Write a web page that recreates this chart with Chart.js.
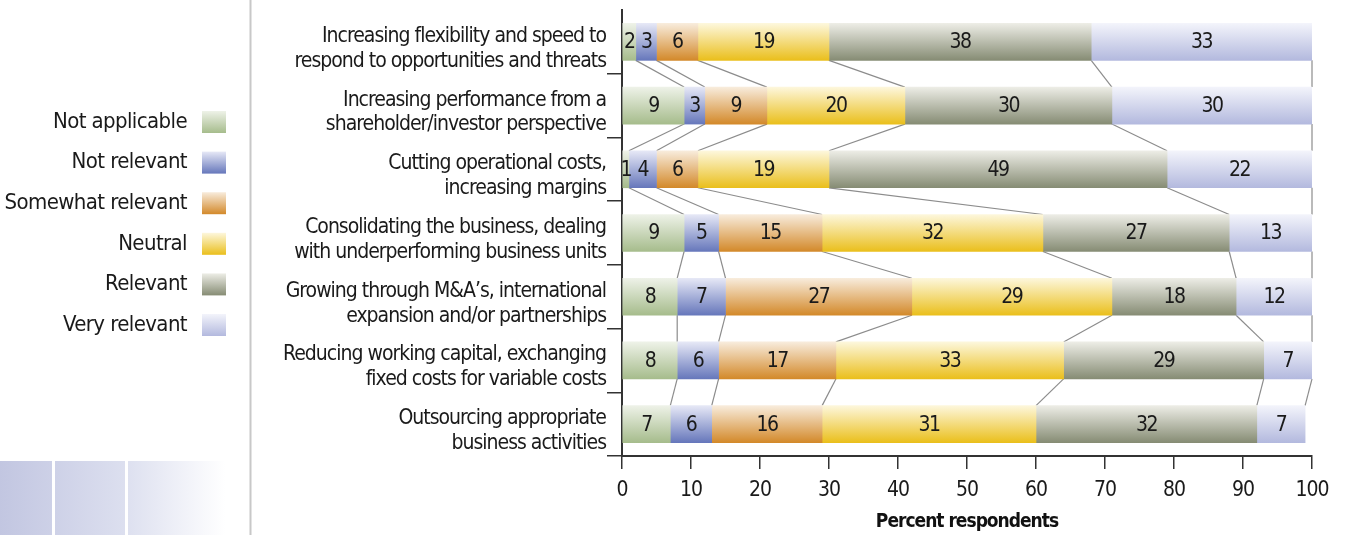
<!DOCTYPE html>
<html>
<head>
<meta charset="utf-8">
<script src="https://cdn.jsdelivr.net/npm/chart.js@4.4.1/dist/chart.umd.min.js"></script>
<style>
  html, body { margin: 0; padding: 0; background: #fff; overflow: hidden; }
  #wrap { position: relative; width: 1345px; height: 535px; }
</style>
</head>
<body>
<div id="wrap"><canvas id="c" width="1345" height="535"></canvas></div>
<script>
// Survey categories (two-line labels)
const categories = [
  ['Increasing flexibility and speed to', 'respond to opportunities and threats'],
  ['Increasing performance from a', 'shareholder/investor perspective'],
  ['Cutting operational costs,', 'increasing margins'],
  ['Consolidating the business, dealing', 'with underperforming business units'],
  ['Growing through M&A\u2019s, international', 'expansion and/or partnerships'],
  ['Reducing working capital, exchanging', 'fixed costs for variable costs'],
  ['Outsourcing appropriate', 'business activities']
];

// Share of respondents per answer (percent)
const notApplicable    = [2, 9, 1, 9, 8, 8, 7];
const notRelevant      = [3, 3, 4, 5, 7, 6, 6];
const somewhatRelevant = [6, 9, 6, 15, 27, 17, 16];
const neutral          = [19, 20, 19, 32, 29, 33, 31];
const relevant         = [38, 30, 49, 27, 18, 29, 32];
const veryRelevant     = [33, 30, 22, 13, 12, 7, 7];

const seriesNames = ['Not applicable', 'Not relevant', 'Somewhat relevant', 'Neutral', 'Relevant', 'Very relevant'];
const xTickValues = [0, 10, 20, 30, 40, 50, 60, 70, 80, 90, 100];

// Visual styling
const FONT = "'Liberation Sans Narrow', 'DejaVu Sans Condensed', 'Arial Narrow', 'Roboto', sans-serif";
const TEXT = '#1a1a1a';
const BAR = 37;
const TIGHT = '-1px';   // narrows the condensed face a little further
const shades = [
  ['#eef2e8', '#a6bc8c'],
  ['#e6e8f6', '#6677bb'],
  ['#f8ecdc', '#d3892a'],
  ['#fdf7dc', '#eabf1c'],
  ['#ededE6', '#868c74'],
  ['#f3f4fb', '#b3b9de']
];

function barFill(top, bottom) {
  return (ctx) => {
    const chart = ctx.chart;
    if (!chart.chartArea || ctx.type !== 'data') return bottom;
    const y = chart.scales.y.getPixelForValue(ctx.dataIndex);
    const g = chart.ctx.createLinearGradient(0, y - BAR / 2, 0, y + BAR / 2);
    g.addColorStop(0, top);
    g.addColorStop(1, bottom);
    return g;
  };
}

const seriesValues = [notApplicable, notRelevant, somewhatRelevant, neutral, relevant, veryRelevant];

const datasets = seriesValues.map((vals, i) => ({
  label: seriesNames[i],
  data: vals,
  backgroundColor: barFill(shades[i][0], shades[i][1]),
  borderWidth: 0,
  barThickness: BAR
}));

// Tighter letter spacing for all text on the canvas
const tightText = {
  id: 'tightText',
  beforeUpdate(chart) { chart.ctx.letterSpacing = TIGHT; },
  beforeDraw(chart) { chart.ctx.letterSpacing = TIGHT; }
};

// Left panel: divider line and fading tiles
const backdrop = {
  id: 'backdrop',
  beforeDraw(chart) {
    const c = chart.ctx;
    c.save();
    c.fillStyle = '#fff';
    c.fillRect(0, 0, chart.width, chart.height);
    const g = c.createLinearGradient(0, 0, 225, 0);
    g.addColorStop(0, '#c2c6e1');
    g.addColorStop(0.55, '#dcdfef');
    g.addColorStop(1, '#ffffff');
    c.fillStyle = g;
    c.fillRect(0, 461, 225, chart.height - 461);
    c.fillStyle = '#fff';
    c.fillRect(52, 461, 3, chart.height - 461);
    c.fillRect(125, 461, 3, chart.height - 461);
    c.strokeStyle = '#c8c8c8';
    c.lineWidth = 2;
    c.beginPath();
    c.moveTo(250.5, 0);
    c.lineTo(250.5, chart.height);
    c.stroke();
    c.restore();
  }
};

// Thin lines joining matching segment boundaries of neighbouring bars
const connectors = {
  id: 'connectors',
  beforeDatasetsDraw(chart) {
    const c = chart.ctx;
    const right = chart.chartArea.right;
    c.save();
    c.strokeStyle = '#8c8c8c';
    c.lineWidth = 1.2;
    chart.data.datasets.forEach((ds, di) => {
      const els = chart.getDatasetMeta(di).data;
      for (let k = 0; k < els.length - 1; k++) {
        const a = els[k], b = els[k + 1];
        c.beginPath();
        c.moveTo(Math.min(a.x, right), a.y + BAR / 2);
        c.lineTo(Math.min(b.x, right), b.y - BAR / 2);
        c.stroke();
      }
    });
    c.restore();
  }
};

// Value printed in the middle of each segment
const valueLabels = {
  id: 'valueLabels',
  afterDatasetsDraw(chart) {
    const c = chart.ctx;
    const { left, right } = chart.chartArea;
    c.save();
    c.font = '21px ' + FONT;
    c.letterSpacing = '-1.5px';
    c.fillStyle = TEXT;
    c.textAlign = 'center';
    c.textBaseline = 'middle';
    chart.data.datasets.forEach((ds, di) => {
      chart.getDatasetMeta(di).data.forEach((el, i) => {
        const x0 = Math.max(Math.min(el.base, el.x), left);
        const x1 = Math.min(Math.max(el.base, el.x), right);
        c.fillText(String(ds.data[i]), (x0 + x1) / 2, el.y + 1);
      });
    });
    c.restore();
  }
};

// Legend column: text right-aligned with swatch to its right
const sideLegend = {
  id: 'sideLegend',
  afterDraw(chart) {
    const c = chart.ctx;
    c.save();
    c.font = '22px ' + FONT;
    c.letterSpacing = '-0.6px';
    c.textAlign = 'right';
    c.textBaseline = 'middle';
    chart.data.datasets.forEach((ds, i) => {
      const cy = 122 + i * 40.6;
      c.fillStyle = TEXT;
      c.fillText(ds.label, 187, cy);
      const g = c.createLinearGradient(0, cy - 11, 0, cy + 11);
      g.addColorStop(0, shades[i][0]);
      g.addColorStop(1, shades[i][1]);
      c.fillStyle = g;
      c.fillRect(202, cy - 11, 24, 22);
    });
    c.restore();
  }
};

Chart.defaults.font.family = FONT;
Chart.defaults.color = TEXT;

new Chart(document.getElementById('c'), {
  type: 'bar',
  data: { labels: categories, datasets },
  options: {
    indexAxis: 'y',
    responsive: false,
    animation: false,
    devicePixelRatio: 1,
    layout: { padding: { left: 251, top: 10, right: 33, bottom: 0 } },
    plugins: {
      legend: { display: false },
      tooltip: { enabled: false }
    },
    scales: {
      x: {
        type: 'linear',
        stacked: true,
        min: 0,
        max: 100,
        afterBuildTicks: (s) => { s.ticks = xTickValues.map(v => ({ value: v })); },
        ticks: { color: TEXT, font: { size: 21 }, padding: 9 },
        grid: { drawOnChartArea: false, drawTicks: true, tickLength: 13, color: '#333', lineWidth: 1.5 },
        border: { display: true, color: '#333', width: 2 },
        title: {
          display: true,
          text: 'Percent respondents',
          color: '#111',
          font: { size: 19, weight: 'bold' },
          padding: { top: 2, bottom: 2 }
        },
        afterFit: (s) => { s.height = 79; }
      },
      y: {
        type: 'category',
        stacked: true,
        offset: true,
        grid: {
          offset: true,
          drawOnChartArea: false,
          drawTicks: true,
          tickLength: 15,
          lineWidth: 1.5,
          color: (ctx) => (ctx.index === 0 ? 'rgba(0,0,0,0)' : '#333')
        },
        border: { display: true, color: '#333', width: 2 },
        ticks: { color: TEXT, font: { size: 21, lineHeight: 1.18 }, padding: 1, labelOffset: 7 },
        afterFit: (s) => { s.width = 371; s.paddingTop = 0; s.paddingBottom = 0; }
      }
    }
  },
  plugins: [tightText, backdrop, connectors, valueLabels, sideLegend]
});
</script>
</body>
</html>
